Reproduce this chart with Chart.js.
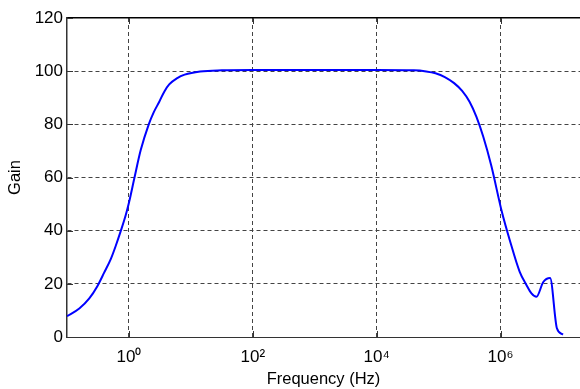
<!DOCTYPE html>
<html>
<head>
<meta charset="utf-8">
<script src="https://cdn.jsdelivr.net/npm/chart.js@4"></script>
<style>
html,body{margin:0;padding:0;background:#fff;}
#wrap{width:580px;height:389px;position:relative;}
</style>
</head>
<body>
<div id="wrap"><canvas id="c" width="580" height="389"></canvas></div>
<script>
// Frequency (Hz) and gain
const freqHz = [0.1, 0.158, 0.229, 0.309, 0.398, 0.513, 0.617, 0.741, 0.891, 1.0, 1.23, 1.55, 2.09,
  2.51, 3.09, 3.72, 4.47, 6.03, 7.94, 14.1, 31.6,
  100, 1000, 10000, 39800, 63100, 89100, 126000, 178000, 240000, 316000, 407000, 525000, 708000,
  1050000, 1410000, 2040000, 2630000, 3160000, 3800000, 4900000, 6310000, 8130000, 10200000];
const gain = [7.8, 10.7, 14.5, 19.1, 24.2, 29.5, 34.5, 40, 46, 50.5, 60, 70.3, 80,
  84.5, 88.5, 92.3, 95, 97.4, 98.7, 99.9, 100.3,
  100.4, 100.4, 100.4, 100.3, 99.9, 99.2, 97.8, 95.5, 92.6, 88.5, 82.9, 75.4, 64.5,
  47.1, 36.4, 24.5, 19.5, 16.4, 15.1, 20.7, 22.2, 3.3, 0.9];
const xTicks = [1, 100, 10000, 1000000];
const xTickLabels = ['10\u2070', '10\u00B2', '10\u2074', '10\u2076'];
const yTicks = [0, 20, 40, 60, 80, 100, 120];
const xMin = 0.1, xMax = Math.pow(10, 7.283);

const points = freqHz.map((f, i) => ({x: f, y: gain[i]}));
const FONT = 'Liberation Sans, Arial, sans-serif';

const inwardTicks = {
  id: 'inwardTicks',
  afterDraw(chart) {
    const {ctx, chartArea: a, scales} = chart;
    ctx.save();
    ctx.strokeStyle = '#333';
    ctx.lineWidth = 1;
    ctx.beginPath();
    xTicks.forEach(v => {
      const px = Math.round(scales.x.getPixelForValue(v)) + 0.5;
      ctx.moveTo(px, a.bottom); ctx.lineTo(px, a.bottom - 6);
      ctx.moveTo(px, a.top); ctx.lineTo(px, a.top + 6);
    });
    yTicks.forEach(v => {
      const py = Math.round(scales.y.getPixelForValue(v)) + 0.5;
      ctx.moveTo(a.left, py); ctx.lineTo(a.left + 6, py);
    });
    ctx.stroke();
    ctx.restore();
  }
};

new Chart(document.getElementById('c'), {
  type: 'line',
  data: {
    datasets: [{
      data: points,
      borderColor: '#0000ff',
      borderWidth: 2,
      pointRadius: 0,
      fill: false,
      cubicInterpolationMode: 'monotone'
    }]
  },
  options: {
    responsive: false,
    animation: false,
    layout: {padding: 0},
    plugins: {legend: {display: false}, tooltip: {enabled: false}},
    scales: {
      x: {
        type: 'logarithmic',
        position: 'bottom',
        min: xMin, max: xMax,
        afterBuildTicks: s => { s.ticks = xTicks.map(v => ({value: v})); },
        afterFit: s => { s.height = 52; },
        ticks: {
          color: '#000',
          font: {family: FONT, size: 17},
          padding: 10,
          maxRotation: 0,
          autoSkip: false,
          callback: (v) => { const i = xTicks.indexOf(v); return i >= 0 ? xTickLabels[i] : ''; }
        },
        grid: {
          color: '#444',
          drawTicks: false
        },
        border: {display: true, color: '#333', width: 1, dash: [4, 3]},
        title: {display: true, text: 'Frequency (Hz)', color: '#000',
          font: {family: FONT, size: 16.5}, padding: {top: 0, bottom: 0}}
      },
      x2: {
        type: 'logarithmic',
        position: 'top',
        min: xMin, max: xMax,
        afterFit: s => { s.height = 18; },
        ticks: {display: false},
        grid: {display: false, drawTicks: false},
        border: {display: true, color: '#000', width: 1.5}
      },
      y: {
        type: 'linear',
        min: 0, max: 120,
        afterBuildTicks: s => { s.ticks = yTicks.map(v => ({value: v})); },
        afterFit: s => { s.width = 67; },
        ticks: {
          color: '#000',
          font: {family: FONT, size: 17},
          padding: 4
        },
        grid: {
          color: ctx => (ctx.tick && (ctx.tick.value === 0 || ctx.tick.value === 120)) ? 'rgba(0,0,0,0)' : '#444',
          drawTicks: false
        },
        border: {display: true, color: '#333', width: 1.5, dash: [4, 3]},
        title: {display: true, text: 'Gain', color: '#000',
          font: {family: FONT, size: 16.5}, padding: {top: 6, bottom: 0}}
      }
    }
  },
  plugins: [inwardTicks]
});
</script>
</body>
</html>
